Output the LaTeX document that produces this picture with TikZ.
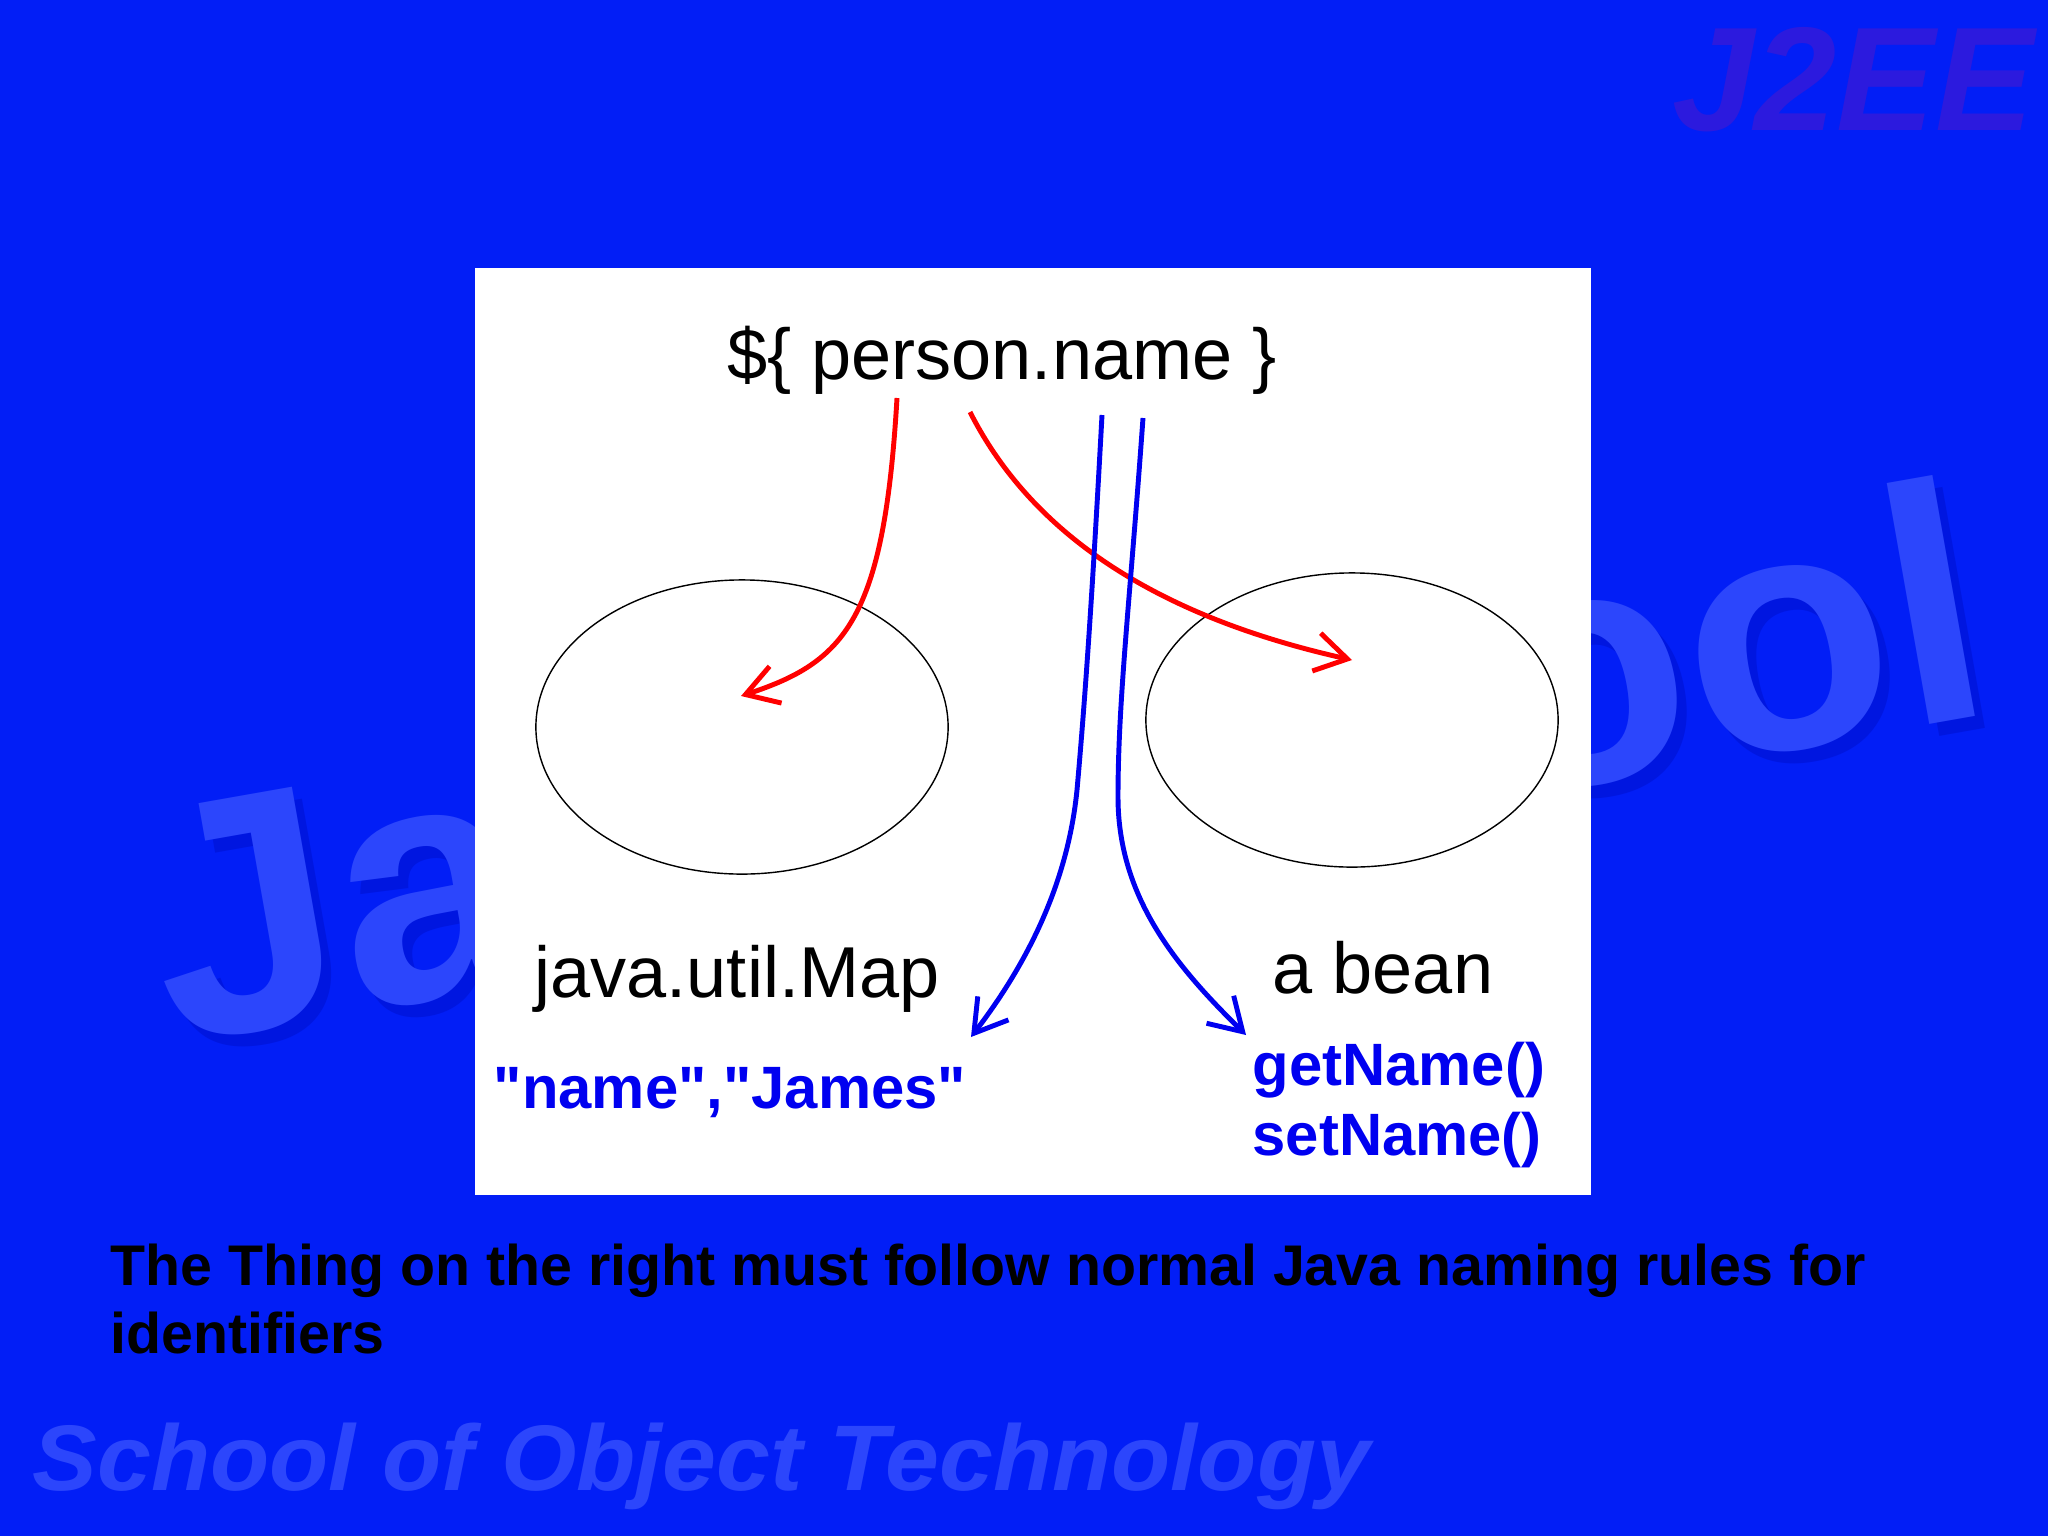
\documentclass[tikz,border=0pt]{standalone}
\usepackage{fontspec}
\setmainfont{Liberation Sans}
\newfontfamily\plainsans{Liberation Sans}
\usetikzlibrary{shapes.geometric}
\usetikzlibrary{positioning}
\usetikzlibrary{arrows.meta,calc}

\definecolor{slideblue}{RGB}{2,30,246}
\definecolor{inkblue}{RGB}{0,0,240}
\definecolor{faceblue}{RGB}{44,70,252}
\definecolor{shadeblue}{RGB}{0,22,224}
\definecolor{brandpurple}{RGB}{44,26,222}

\begin{document}
\begin{tikzpicture}[
x=0.01cm, y=-0.01cm,
>={Straight Barb[length=9pt,width=11pt]},
valset/.style={ellipse, draw, line width=0.4pt, minimum width=4.12cm, minimum height=2.94cm, inner sep=0pt},
settitle/.style={font=\fontsize{20.5}{24}\selectfont, anchor=base, inner sep=0pt},
member/.style={font=\plainsans\fontsize{17}{20}\selectfont\bfseries, text=inkblue, inner sep=0pt},
note/.style={font=\fontsize{16.3}{19.5}\selectfont\bfseries, anchor=base west, inner sep=0pt},
watermark/.style={font=\fontsize{96}{100}\selectfont\bfseries, anchor=base west, inner sep=0pt, rotate=10},
lookup/.style={->, red, line width=1.4pt},
access/.style={->, inkblue, line width=1.4pt}]
\useasboundingbox (0,0) rectangle (2048,1536);
\fill[slideblue] (0,0) rectangle (2048,1536);

% slide background marks
\node[watermark, text=shadeblue] (logoshade) at (180,1057) {Ja};
\node[watermark, text=faceblue] (logo) at (170,1045) {Ja};
\node[watermark, text=shadeblue] (logotailshade) at (1510,812) {ool};
\node[watermark, text=faceblue] (logotail) at (1500,800) {ool};
\node[font=\fontsize{42}{48}\selectfont\bfseries\itshape, text=brandpurple, anchor=base west, inner sep=0pt] (brand) at (1672,130) {J2EE};
\node[font=\fontsize{26.5}{30}\selectfont\bfseries\itshape, text=faceblue, anchor=base west, inner sep=0pt, xscale=1.04, transform shape] (school) at (32,1490) {School of Object Technology};

\fill[white] (475,268) rectangle (1591,1195);

\node [settitle] (expr) at (1002,379) {\$\{ person.name \}};
\node [valset] (mapset) at (742,727) {};
\node [valset] (beanset) at (1352,720) {};
\node [settitle] (maptype) at (737,997) {java.util.Map};
\node [settitle] (beantype) at (1383,993) {a bean};
\node [member, anchor=base] (pair) at (730,1108) {"name","James"};
\node [member, anchor=base west] (getter) at (1252,1085) {getName()};
\node [member, anchor=base west] (setter) at (1252,1155) {setName()};

\coordinate (exprA) at (897,398);
\coordinate (exprB) at (970,412);
\coordinate (exprC) at (1102,415);
\coordinate (exprD) at (1143,418);
\coordinate (mapin) at (741,696);
\coordinate (beanin) at (1352,660);
\coordinate (pairin) at (971,1037);
\coordinate (getin) at (1246,1035);

\draw [lookup] (exprA) .. controls (884,620) and (845,662) .. (mapin);
\draw [lookup] (exprB) .. controls (1030,530) and (1150,615) .. (beanin);
\draw [access] (exprC) .. controls (1092,600) and (1085,700) .. (1077,790) .. controls (1068,880) and (1030,960) .. (pairin);
\draw [access] (exprD) .. controls (1130,600) and (1118,700) .. (1118,797) .. controls (1118,900) and (1180,970) .. (getin);

\node [note] (remark) at (110,1285) {The Thing on the right must follow normal Java naming rules for};
\node [note] (remarkend) at (110,1353) {identifiers};
\end{tikzpicture}
\end{document}
